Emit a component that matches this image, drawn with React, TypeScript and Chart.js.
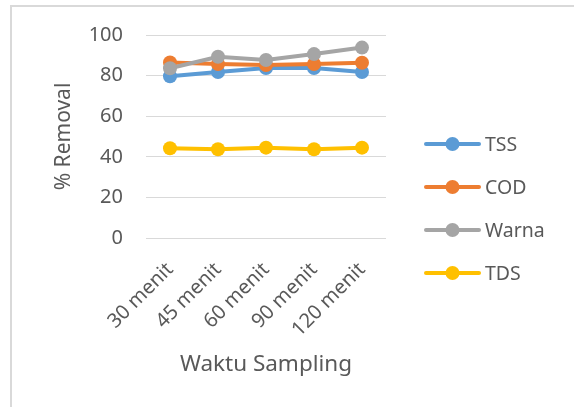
import React, { useEffect, useRef } from "react";
import { Chart, registerables } from "chart.js";

Chart.register(...registerables);

const categories = ["30 menit", "45 menit", "60 menit", "90 menit", "120 menit"];
const tssValues = [79.7, 81.8, 83.7, 83.7, 81.8];
const codValues = [86.5, 85.7, 85.2, 85.7, 86.3];
const warnaValues = [83.6, 89.3, 87.7, 90.6, 93.8];
const tdsValues = [44.2, 43.7, 44.5, 43.7, 44.5];
const seriesNames = ["TSS", "COD", "Warna", "TDS"];
const seriesColors = ["#5B9BD5", "#ED7D31", "#A5A5A5", "#FFC000"];
const yTickValues = [0, 20, 40, 60, 80, 100];

const FONT = "'Noto Sans', 'Open Sans', sans-serif";
const TEXT = "#595959";

const W = 574;
const H = 407;
const PLOT_LEFT = 146;
const PLOT_RIGHT = 386;
const PLOT_TOP = 33;
const PLOT_BOTTOM = 238;
const PAD_LEFT = 51;
const PAD_BOTTOM = 29;

const customLegend = {
  id: "customLegend",
  afterDraw(chart: any) {
    const ctx = chart.ctx;
    ctx.save();
    chart.data.datasets.forEach((ds: any, i: number) => {
      const y = 144 + i * 43;
      ctx.strokeStyle = ds.borderColor;
      ctx.lineWidth = 4;
      ctx.lineCap = "round";
      ctx.beginPath();
      ctx.moveTo(426, y);
      ctx.lineTo(479, y);
      ctx.stroke();
      ctx.fillStyle = ds.borderColor;
      ctx.beginPath();
      ctx.arc(452.5, y, 7, 0, Math.PI * 2);
      ctx.fill();
      ctx.fillStyle = TEXT;
      ctx.font = `19.5px ${FONT}`;
      ctx.textAlign = "left";
      ctx.textBaseline = "middle";
      ctx.fillText(ds.label, 485, y + 1);
    });
    ctx.restore();
  },
};

export default function App() {
  const ref = useRef<HTMLCanvasElement | null>(null);

  useEffect(() => {
    if (!ref.current) return;
    const valuesList = [tssValues, codValues, warnaValues, tdsValues];
    const chart = new Chart(ref.current, {
      type: "line",
      data: {
        labels: categories,
        datasets: seriesNames.map((name, i) => ({
          label: name,
          data: valuesList[i],
          borderColor: seriesColors[i],
          backgroundColor: seriesColors[i],
          pointBackgroundColor: seriesColors[i],
          pointBorderColor: seriesColors[i],
          borderWidth: 4,
          pointRadius: 7,
          pointHoverRadius: 7,
          pointBorderWidth: 0,
          tension: 0,
          fill: false,
          order: seriesNames.length - i,
        })),
      },
      options: {
        responsive: false,
        animation: false,
        events: [],
        layout: {
          padding: {
            left: PAD_LEFT,
            top: PLOT_TOP,
            right: W - PLOT_RIGHT,
            bottom: PAD_BOTTOM,
          },
        },
        plugins: {
          legend: { display: false },
          tooltip: { enabled: false },
          title: { display: false },
        },
        scales: {
          x: {
            offset: true,
            grid: { display: false, drawTicks: false },
            border: { display: false },
            ticks: {
              color: TEXT,
              font: { family: FONT, size: 20 },
              minRotation: 45,
              maxRotation: 45,
              padding: 20,
              autoSkip: false,
            },
            title: {
              display: true,
              text: "Waktu Sampling",
              color: TEXT,
              font: { family: FONT, size: 22.5 },
              padding: 0,
            },
            afterFit: (scale: any) => {
              scale.height = H - PAD_BOTTOM - PLOT_BOTTOM;
            },
          },
          y: {
            min: 0,
            max: 100,
            grid: { color: "#d9d9d9", lineWidth: 1, drawTicks: false },
            border: { display: false },
            afterBuildTicks: (scale: any) => {
              scale.ticks = yTickValues.map((v) => ({ value: v }));
            },
            ticks: {
              color: TEXT,
              font: { family: FONT, size: 20 },
              padding: 23,
            },
            title: {
              display: true,
              text: "% Removal",
              color: TEXT,
              font: { family: FONT, size: 21 },
              padding: 0,
            },
            afterFit: (scale: any) => {
              scale.width = PLOT_LEFT - PAD_LEFT;
            },
          },
        },
      },
      plugins: [customLegend],
    });
    return () => chart.destroy();
  }, []);

  return (
    <div
      style={{
        position: "absolute",
        left: 0,
        top: 0,
        width: W,
        height: H,
        overflow: "hidden",
        background: "#ffffff",
      }}
    >
      <div
        style={{
          position: "absolute",
          left: 10,
          top: 5,
          width: 700,
          height: 600,
          borderLeft: "2px solid #d9d9d9",
          borderTop: "2px solid #d9d9d9",
        }}
      />
      <canvas
        ref={ref}
        width={W}
        height={H}
        style={{ position: "absolute", left: 0, top: 0, width: W, height: H }}
      />
    </div>
  );
}
